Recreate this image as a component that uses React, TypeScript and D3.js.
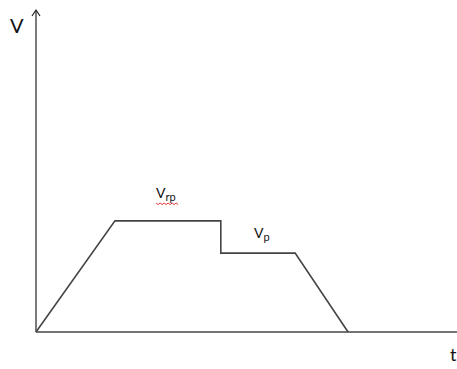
import React from "react";
import * as d3 from "d3";

const W = 457;
const H = 369;

// velocity profile (time, velocity) in chart units
const profileT = [0, 1.88, 4.4, 4.4, 6.17, 7.43];
const profileV = [0, 3.45, 3.45, 2.45, 2.45, 0];

const labels = [
  { main: "V", sub: "rp", t: 2.86, v: 4.16, squiggle: true },
  { main: "V", sub: "p", t: 5.19, v: 2.92, squiggle: false },
];

export default function App() {
  const x = d3.scaleLinear().domain([0, 10]).range([36, 456]);
  const y = d3.scaleLinear().domain([0, 10]).range([332, 10]);

  const line = d3
    .line<number>()
    .x((_, i) => x(profileT[i]))
    .y((_, i) => y(profileV[i]));

  const x0 = x(0);
  const y0 = y(0);
  const yTop = y(10);

  const squigglePath = (sx: number, sy: number, w: number) => {
    let p = `M${sx},${sy}`;
    const step = 2;
    for (let i = 0; i < w / step; i++) {
      const xx = sx + (i + 1) * step;
      const yy = sy + (i % 2 === 0 ? 1.5 : 0);
      p += ` L${xx},${yy}`;
    }
    return p;
  };

  return (
    <svg
      width={W}
      height={H}
      style={{ position: "absolute", left: 0, top: 0, background: "#fff" }}
      fontFamily="Lato, 'Noto Sans', sans-serif"
    >
      {/* y axis with arrow */}
      <line x1={x0} y1={y0} x2={x0} y2={yTop + 1} stroke="#222" strokeWidth={1.2} />
      <path
        d={`M${x0 - 4},${yTop + 6} L${x0},${yTop} L${x0 + 4},${yTop + 6}`}
        fill="none"
        stroke="#222"
        strokeWidth={1.2}
      />
      {/* x axis */}
      <line x1={x0} y1={y0} x2={W} y2={y0} stroke="#444" strokeWidth={1.5} />

      {/* profile */}
      <path d={line(profileT) || ""} fill="none" stroke="#444" strokeWidth={1.6} />

      {/* axis labels */}
      <text x={10} y={33} fontSize={20} fill="#111">V</text>
      <text x={450} y={361} fontSize={18} fill="#111">t</text>

      {labels.map((l, i) => {
        const lx = x(l.t);
        const ly = y(l.v);
        return (
          <g key={i}>
            <text x={lx} y={ly} fontSize={14} fill="#111">
              {l.main}
              <tspan fontSize={11} dy={3}>{l.sub}</tspan>
            </text>
            {l.squiggle && (
              <path
                d={squigglePath(lx, ly + 5, 22)}
                fill="none"
                stroke="#e02020"
                strokeWidth={0.9}
              />
            )}
          </g>
        );
      })}
    </svg>
  );
}
